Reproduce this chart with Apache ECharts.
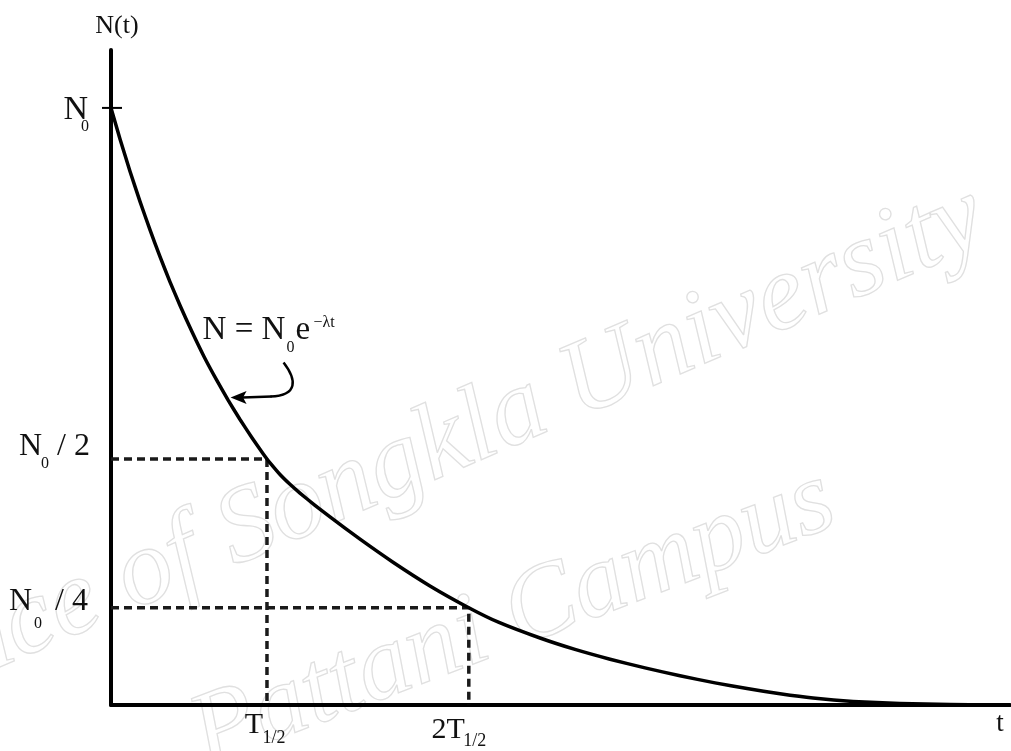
<!DOCTYPE html>
<html>
<head>
<meta charset="utf-8">
<script src="https://cdn.jsdelivr.net/npm/echarts@6/dist/echarts.min.js"></script>
<style>
  html, body { margin: 0; padding: 0; background: #fff; }
  #main { width: 1011px; height: 751px; }
</style>
</head>
<body>
<div id="main"></div>
<script>
// Decay curve N(t): N in units where N0 = 100, t in arbitrary time units
const decayT = [0, 1.0, 2.11, 3.23, 4.34, 5.45, 6.56, 7.68, 9.01, 10.34, 11.68, 13.01, 14.35, 15.68, 16.57, 17.35,
  17.69, 18.8, 19.91, 21.02, 22.69, 24.36, 27.7, 31.37, 35.48, 39.8,
  43.16, 47.72, 51.61, 55.51, 59.4, 63.29, 67.19, 70.75, 74.42, 78.09, 82.54, 87.76, 93.33, 97.78];
const decayN = [100, 94.81, 89.4, 84.31, 79.57, 75.08, 70.88, 66.91, 62.5, 58.37, 54.61, 51.1, 47.81, 44.77, 42.82, 41.2,
  40.55, 38.6, 36.96, 35.49, 33.44, 31.5, 27.78, 23.92, 19.95, 16.3,
  13.83, 11.22, 9.31, 7.67, 6.21, 4.89, 3.7, 2.75, 1.88, 1.16, 0.59, 0.25, 0.08, 0];
// Marked levels: N0, N0/2, N0/4
const levelN = [100, 41.2, 16.3];
// Marked times: T1/2, 2T1/2
const halfTimes = [17.35, 39.8];
// Point on the curve the formula arrow points at
const arrowAt = [13.3, 51.5];
const tMax = 100;
const nMax = 109.7;

const INK = '#000';
const SERIF = '"Liberation Serif", "DejaVu Serif", serif';

const chart = echarts.init(document.getElementById('main'), null, { renderer: 'canvas' });

const curve = decayT.map((t, i) => [t, decayN[i]]);
const halfGuide = [[0, levelN[1]], [halfTimes[0], levelN[1]], [halfTimes[0], 0]];
const quarterGuide = [[0, levelN[2]], [halfTimes[1], levelN[2]], [halfTimes[1], 0]];

const hiddenAxisParts = {
  axisTick: { show: false },
  axisLabel: { show: false },
  splitLine: { show: false },
  axisLine: { show: true, onZero: false, lineStyle: { color: INK, width: 4 } }
};

chart.setOption({
  animation: false,
  backgroundColor: '#fff',
  grid: { left: 111, right: 1, top: 50, bottom: 46, containLabel: false },
  xAxis: Object.assign({ type: 'value', min: 0, max: tMax }, hiddenAxisParts),
  yAxis: Object.assign({ type: 'value', min: 0, max: nMax }, hiddenAxisParts),
  series: [
    {
      type: 'line', data: halfGuide, showSymbol: false, z: 2,
      lineStyle: { color: '#1a1a1a', width: 3.5, type: [8, 5] }
    },
    {
      type: 'line', data: quarterGuide, showSymbol: false, z: 2,
      lineStyle: { color: '#1a1a1a', width: 3.5, type: [8, 5] }
    },
    {
      type: 'line', data: curve, showSymbol: false, smooth: 0.15, z: 3,
      lineStyle: { color: INK, width: 3.5, join: 'round' }
    }
  ]
});

const px = (t, n) => chart.convertToPixel({ gridIndex: 0 }, [t, n]);

function txt(x, y, text, size, align, extra) {
  return Object.assign({
    type: 'text', x: x, y: y, z: 10,
    style: {
      text: text, font: size + 'px ' + SERIF, fill: '#111',
      align: align, textAlign: align, verticalAlign: 'middle', textVerticalAlign: 'middle'
    }
  }, extra || {});
}

const pTop = px(0, nMax);
const pN0 = px(0, levelN[0]);
const pHalf = px(0, levelN[1]);
const pQuarter = px(0, levelN[2]);
const pT1 = px(halfTimes[0], 0);
const pT2 = px(halfTimes[1], 0);
const pEnd = px(tMax, 0);
const tip = px(arrowAt[0], arrowAt[1]);
const ax = pN0[0];

const graphics = [];

// Watermark
graphics.push({
  type: 'text', x: 980, y: 214, rotation: 23.3 * Math.PI / 180, z: 0, silent: true,
  style: {
    text: 'Prince of Songkla University', font: 'italic 108px ' + SERIF,
    fill: 'rgba(0,0,0,0)', stroke: '#e0e0e0', lineWidth: 1.3,
    align: 'right', textAlign: 'right', verticalAlign: 'middle', textVerticalAlign: 'middle'
  }
});
graphics.push({
  type: 'text', x: 196, y: 741, rotation: 21 * Math.PI / 180, z: 0, silent: true,
  style: {
    text: 'Pattani Campus', font: 'italic 105px ' + SERIF,
    fill: 'rgba(0,0,0,0)', stroke: '#e0e0e0', lineWidth: 1.3,
    align: 'left', textAlign: 'left', verticalAlign: 'middle', textVerticalAlign: 'middle'
  }
});

// Tick at N0
graphics.push({
  type: 'line', z: 10,
  shape: { x1: ax - 9, y1: pN0[1], x2: ax + 11, y2: pN0[1] },
  style: { stroke: INK, lineWidth: 2 }
});

// Axis titles
graphics.push(txt(pTop[0] + 6, pTop[1] - 24, 'N(t)', 26, 'center'));
graphics.push(txt(pEnd[0] - 10, pEnd[1] + 19, 't', 27, 'center'));

// Level labels
graphics.push(txt(ax - 23, pN0[1] + 2, 'N', 34, 'right'));
graphics.push(txt(ax - 26, pN0[1] + 19, '0', 16, 'center'));

graphics.push(txt(ax - 69, pHalf[1] - 12.5, 'N', 32, 'right'));
graphics.push(txt(ax - 66, pHalf[1] + 5, '0', 16, 'center'));
graphics.push(txt(ax - 54, pHalf[1] - 12, '/ 2', 32, 'left'));

graphics.push(txt(ax - 79, pQuarter[1] - 6, 'N', 32, 'right'));
graphics.push(txt(ax - 73, pQuarter[1] + 16, '0', 16, 'center'));
graphics.push(txt(ax - 56, pQuarter[1] - 6, '/ 4', 32, 'left'));

// Time labels
graphics.push(txt(pT1[0] - 4, pT1[1] + 20, 'T', 30, 'right'));
graphics.push(txt(pT1[0] + 7, pT1[1] + 33, '1/2', 18, 'center'));
graphics.push(txt(pT2[0] - 4, pT2[1] + 25, '2T', 30, 'right'));
graphics.push(txt(pT2[0] + 6, pT2[1] + 36, '1/2', 18, 'center'));

// Formula and arrow
const fx = tip[0] - 28, fy = tip[1] - 67.5;
graphics.push(txt(fx, fy, 'N = N', 33, 'left'));
graphics.push(txt(fx + 88, fy + 18, '0', 16, 'center'));
graphics.push(txt(fx + 93, fy, 'e', 33, 'left'));
graphics.push(txt(fx + 111, fy - 7, '\u2212\u03bbt', 16, 'left'));

graphics.push({
  type: 'bezierCurve', z: 10,
  shape: {
    x1: tip[0] + 53, y1: tip[1] - 35,
    x2: tip[0] + 40, y2: tip[1] - 1,
    cpx1: tip[0] + 66, cpy1: tip[1] - 18,
    cpx2: tip[0] + 68, cpy2: tip[1] - 2
  },
  style: { stroke: INK, lineWidth: 2.5, fill: null }
});
graphics.push({
  type: 'line', z: 10,
  shape: { x1: tip[0] + 41, y1: tip[1] - 1, x2: tip[0] + 12, y2: tip[1] },
  style: { stroke: INK, lineWidth: 2.5 }
});
graphics.push({
  type: 'polygon', z: 10,
  shape: { points: [[tip[0], tip[1]], [tip[0] + 16, tip[1] - 6.5], [tip[0] + 12.5, tip[1]], [tip[0] + 16, tip[1] + 6.5]] },
  style: { fill: INK }
});

chart.setOption({ graphic: { elements: graphics } });
</script>
</body>
</html>
